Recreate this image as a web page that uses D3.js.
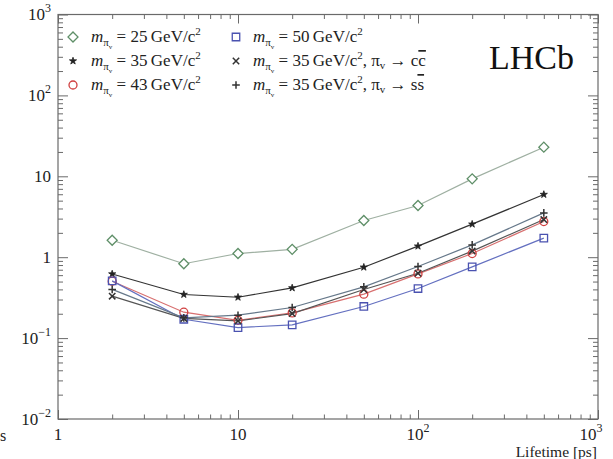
<!DOCTYPE html>
<html><head><meta charset="utf-8">
<script src="https://cdn.jsdelivr.net/npm/d3@7"></script>
<style>body{margin:0;background:#fff}svg{display:block}</style>
</head><body><svg id="c" width="613" height="459"></svg>
<script>
// ---- data ----
const lifetimes = [2, 5, 10, 20, 50, 100, 200, 500];
const m25 = [1.62, 0.83, 1.11, 1.25, 2.84, 4.36, 9.3, 22.9];
const m35 = [0.62, 0.346, 0.32, 0.417, 0.752, 1.37, 2.56, 5.96];
const m43 = [0.505, 0.209, 0.166, 0.205, 0.349, 0.622, 1.11, 2.76];
const m50 = [0.51, 0.171, 0.135, 0.146, 0.246, 0.41, 0.76, 1.72];
const m35cc = [0.33, 0.175, 0.163, 0.201, 0.399, 0.634, 1.19, 2.92];
const m35ss = [0.40, 0.178, 0.192, 0.239, 0.43, 0.767, 1.42, 3.53];
const xTickValues = [1, 10, 100, 1000];
const yTickExponents = [-2, -1, 0, 1, 2, 3];

const series = [
  {vals: m25, mark: "diamond", stroke: "#5f8f68", line: "#9fb0a2", mass: "25", extra: null},
  {vals: m35, mark: "star", stroke: "#222", line: "#333", mass: "35", extra: null},
  {vals: m43, mark: "circle", stroke: "#d04040", line: "#d87070", mass: "43", extra: null},
  {vals: m50, mark: "square", stroke: "#4a52b0", line: "#6470c0", mass: "50", extra: null},
  {vals: m35cc, mark: "times", stroke: "#333", line: "#555", mass: "35", extra: "c"},
  {vals: m35ss, mark: "plus", stroke: "#333", line: "#66788a", mass: "35", extra: "s"}
];

const svg = d3.select("#c").style("font-family", '"Liberation Serif", "Times New Roman", serif');
const L = 58, R = 598, T = 14.5, B = 419;
const x = d3.scaleLog().domain([1, 1000]).range([L, R]);
const y = d3.scaleLog().domain([0.01, 1000]).range([B, T]);
const axisColor = "#6a6a6a";

const xMinor = [], yMinor = [];
for (let e = 0; e < 3; e++) for (let k = 2; k <= 9; k++) xMinor.push(k * Math.pow(10, e));
for (let e = -2; e < 3; e++) for (let k = 2; k <= 9; k++) yMinor.push(k * Math.pow(10, e));
const yMajor = yTickExponents.map(e => Math.pow(10, e));

function styleAxis(g) {
  g.select(".domain").remove();
  g.selectAll("line").attr("stroke", axisColor).attr("stroke-width", 1);
  g.selectAll("text").remove();
}
svg.append("g").attr("transform", `translate(0,${B})`)
  .call(d3.axisBottom(x).tickValues(xTickValues).tickSize(-9).tickFormat("")).call(styleAxis);
svg.append("g").attr("transform", `translate(0,${B})`)
  .call(d3.axisBottom(x).tickValues(xMinor).tickSize(-4.5).tickFormat("")).call(styleAxis);
svg.append("g").attr("transform", `translate(0,${T})`)
  .call(d3.axisTop(x).tickValues(xTickValues).tickSize(-9).tickFormat("")).call(styleAxis);
svg.append("g").attr("transform", `translate(0,${T})`)
  .call(d3.axisTop(x).tickValues(xMinor).tickSize(-4.5).tickFormat("")).call(styleAxis);
svg.append("g").attr("transform", `translate(${L},0)`)
  .call(d3.axisLeft(y).tickValues(yMajor).tickSize(-10).tickFormat("")).call(styleAxis);
svg.append("g").attr("transform", `translate(${L},0)`)
  .call(d3.axisLeft(y).tickValues(yMinor).tickSize(-5).tickFormat("")).call(styleAxis);
svg.append("g").attr("transform", `translate(${R},0)`)
  .call(d3.axisRight(y).tickValues(yMajor).tickSize(-10).tickFormat("")).call(styleAxis);
svg.append("g").attr("transform", `translate(${R},0)`)
  .call(d3.axisRight(y).tickValues(yMinor).tickSize(-5).tickFormat("")).call(styleAxis);

svg.append("rect").attr("x", L).attr("y", T).attr("width", R - L).attr("height", B - T)
  .attr("fill", "none").attr("stroke", axisColor).attr("stroke-width", 1.2);

// y labels
yTickExponents.forEach(e => {
  const t = svg.append("text").attr("x", 51).attr("y", y(Math.pow(10, e)) + 5.5)
    .attr("text-anchor", "end").attr("font-size", 17).attr("fill", "#222");
  if (e === 0) t.text("1");
  else if (e === 1) t.text("10");
  else {
    t.append("tspan").text("10");
    t.append("tspan").attr("dy", -8).attr("font-size", 12).text(e < 0 ? "\u2212" + (-e) : String(e));
  }
});
// x labels
xTickValues.forEach(v => {
  const e = Math.round(Math.log10(v));
  const px = x(v) - (v === 1000 ? 7 : 0);
  const t = svg.append("text").attr("x", px).attr("y", 440)
    .attr("text-anchor", "middle").attr("font-size", 17).attr("fill", "#222");
  if (e === 0) t.text("1");
  else if (e === 1) t.text("10");
  else {
    t.append("tspan").text("10");
    t.append("tspan").attr("dy", -8).attr("font-size", 12).text(String(e));
  }
});
svg.append("text").attr("x", 597).attr("y", 457).attr("text-anchor", "end")
  .attr("font-size", 15.5).attr("fill", "#222").text("Lifetime [ps]");
svg.append("text").attr("x", 0).attr("y", 441)
  .attr("font-size", 16).attr("fill", "#222").text("s");

function drawMarker(g, mark, stroke, cx, cy) {
  if (mark === "diamond") g.append("path").attr("d", d3.symbol(d3.symbolSquare, 50)()).attr("transform", `translate(${cx},${cy}) rotate(45)`).attr("fill", "#fff").attr("stroke", stroke).attr("stroke-width", 1.3);
  else if (mark === "star") g.append("path").attr("d", d3.symbol(d3.symbolStar, 16)()).attr("transform", `translate(${cx},${cy})`).attr("fill", stroke).attr("stroke", stroke).attr("stroke-width", 0.8);
  else if (mark === "circle") g.append("circle").attr("cx", cx).attr("cy", cy).attr("r", 4).attr("fill", "none").attr("stroke", stroke).attr("stroke-width", 1.3);
  else if (mark === "square") g.append("path").attr("d", d3.symbol(d3.symbolSquare, 56)()).attr("transform", `translate(${cx},${cy})`).attr("fill", "none").attr("stroke", stroke).attr("stroke-width", 1.3);
  else if (mark === "times") g.append("path").attr("d", "M-3.2,-3.2L3.2,3.2M-3.2,3.2L3.2,-3.2").attr("transform", `translate(${cx},${cy})`).attr("fill", "none").attr("stroke", stroke).attr("stroke-width", 1.5);
  else if (mark === "plus") g.append("path").attr("d", "M-3.8,0L3.8,0M0,-3.8L0,3.8").attr("transform", `translate(${cx},${cy})`).attr("fill", "none").attr("stroke", stroke).attr("stroke-width", 1.5);
}

const line = d3.line().x(d => x(d[0])).y(d => y(d[1]));
const plot = svg.append("g");
series.forEach(s => {
  const pts = lifetimes.map((t, i) => [t, s.vals[i]]);
  plot.append("path").attr("d", line(pts)).attr("fill", "none").attr("stroke", s.line).attr("stroke-width", 1.2);
});
series.forEach(s => {
  lifetimes.forEach((t, i) => drawMarker(plot, s.mark, s.stroke, x(t), y(s.vals[i])));
});

// legend
const legRows = [37, 61, 85];
const legCols = [{mx: 73, tx: 91}, {mx: 236, tx: 253}];
series.forEach((s, i) => {
  const col = legCols[Math.floor(i / 3)], ry = legRows[i % 3];
  drawMarker(svg, s.mark, s.stroke, col.mx, ry);
  const t = svg.append("text").attr("x", col.tx).attr("y", ry + 5)
    .attr("font-size", 17).attr("fill", "#222");
  t.append("tspan").attr("font-style", "italic").text("m");
  t.append("tspan").attr("dy", 4).attr("font-size", 11).text("\u03c0");
  t.append("tspan").attr("dy", 3).attr("font-size", 7).text("v");
  t.append("tspan").attr("dy", -7).text(" = " + s.mass + "\u2009GeV/c");
  t.append("tspan").attr("dy", -7).attr("font-size", 11).text("2");
  if (s.extra) {
    t.append("tspan").attr("dy", 7).text(", \u03c0");
    t.append("tspan").attr("dy", 3).attr("font-size", 11).text("v");
    t.append("tspan").attr("dy", -3).text(" \u2192 " + s.extra);
    t.append("tspan").attr("text-decoration", "overline").text(s.extra);
  }
});
svg.append("text").attr("x", 489).attr("y", 69)
  .attr("font-size", 34).attr("fill", "#111").text("LHCb");
</script></body></html>
